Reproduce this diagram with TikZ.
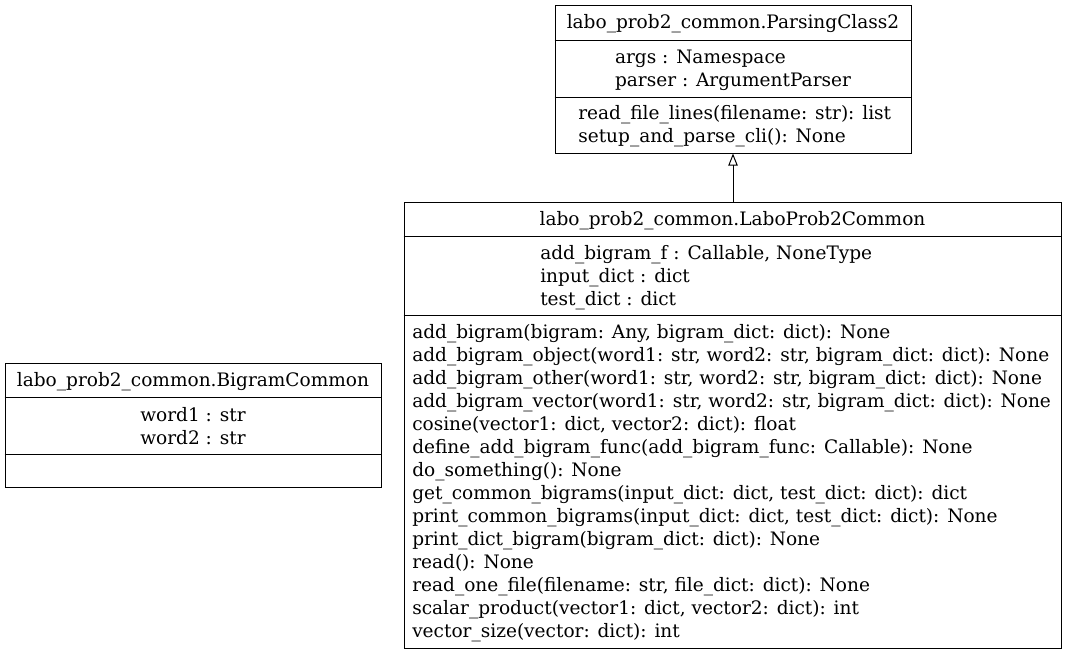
\documentclass[tikz,border=0pt]{standalone}
\usepackage{fontspec}
\setmainfont{DejaVu Serif}
\usetikzlibrary{arrows.meta}
\begin{document}
\begin{tikzpicture}[x=0.75pt,y=-0.75pt,
    font=\fontsize{13.9}{17.25}\selectfont,
    classbox/.style={shape=rectangle,draw=black,line width=0.75pt,inner sep=0pt},
    txt/.style={inner sep=0pt,align=left,yshift=-1.5pt},
    sep/.style={draw=black,line width=0.75pt}]

     \useasboundingbox (0,0) rectangle (1067,654);

     % ParsingClass2
     \node[classbox, minimum width=267pt, minimum height=111pt] (PC) at (733,79){};
     \node[txt] (PCn) at (733,22){labo\_prob2\_common.ParsingClass2};
     \node[txt] (PCa) at (733,68.5){args : Namespace\\parser : ArgumentParser};
     \node[txt, anchor=west] (PCm) at (578,124.5){read\_file\_lines(filename: str): list\\setup\_and\_parse\_cli(): None};
     \draw [sep] (PC.west |- 0,40) to (PC.east |- 0,40);
     \draw [sep] (PC.west |- 0,97) to (PC.east |- 0,97);

     % LaboProb2Common
     \node[classbox, minimum width=492.75pt, minimum height=334.5pt] (LP) at (732.5,425){};
     \node[txt] (LPn) at (732.5,219){labo\_prob2\_common.LaboProb2Common};
     \node[txt, anchor=west] (LPa) at (540,276){add\_bigram\_f : Callable, NoneType\\input\_dict : dict\\test\_dict : dict};
     \node[txt, anchor=west] (LPm) at (412,481){add\_bigram(bigram: Any, bigram\_dict: dict): None\\
       add\_bigram\_object(word1: str, word2: str, bigram\_dict: dict): None\\
       add\_bigram\_other(word1: str, word2: str, bigram\_dict: dict): None\\
       add\_bigram\_vector(word1: str, word2: str, bigram\_dict: dict): None\\
       cosine(vector1: dict, vector2: dict): float\\
       define\_add\_bigram\_func(add\_bigram\_func: Callable): None\\
       do\_something(): None\\
       get\_common\_bigrams(input\_dict: dict, test\_dict: dict): dict\\
       print\_common\_bigrams(input\_dict: dict, test\_dict: dict): None\\
       print\_dict\_bigram(bigram\_dict: dict): None\\
       read(): None\\
       read\_one\_file(filename: str, file\_dict: dict): None\\
       scalar\_product(vector1: dict, vector2: dict): int\\
       vector\_size(vector: dict): int};
     \draw [sep] (LP.west |- 0,236) to (LP.east |- 0,236);
     \draw [sep] (LP.west |- 0,315) to (LP.east |- 0,315);

     % BigramCommon
     \node[classbox, minimum width=282pt, minimum height=93pt] (BC) at (193,425){};
     \node[txt] (BCn) at (193,380){labo\_prob2\_common.BigramCommon};
     \node[txt, align=center] (BCa) at (193,424.5){word1 : str\\word2 : str};
     \draw [sep] (BC.west |- 0,397) to (BC.east |- 0,397);
     \draw [sep] (BC.west |- 0,454) to (BC.east |- 0,454);

     % inheritance
     \draw [draw=black,line width=0.75pt,-{Triangle[open,length=9pt,width=7pt]}] (LP.north -| PC.south) to (PC.south);

\end{tikzpicture}
\end{document}
